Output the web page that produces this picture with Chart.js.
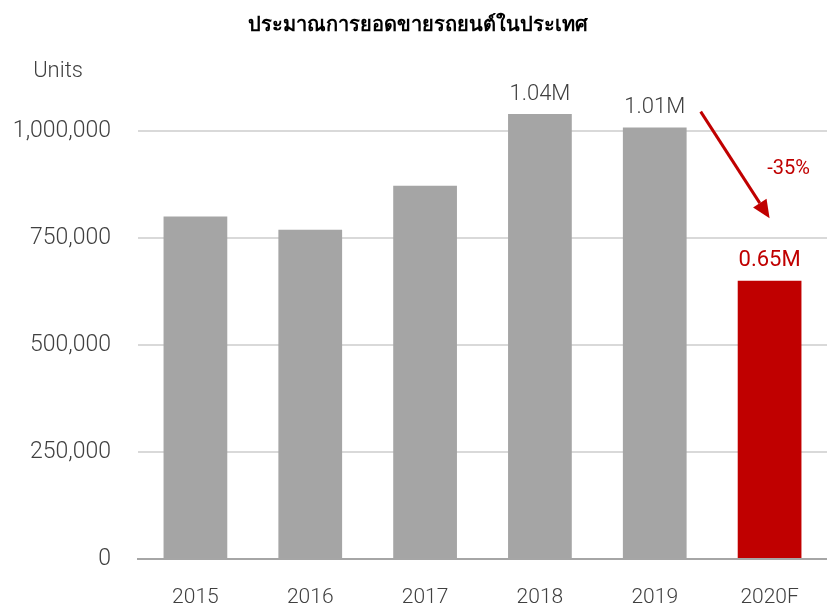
<!DOCTYPE html>
<html><head><meta charset="utf-8">
<script src="https://cdn.jsdelivr.net/npm/chart.js@4"></script>
<style>html,body{margin:0;padding:0;background:#fff}#wrap{width:827px;height:609px}</style>
</head><body><div id="wrap"><canvas id="c" width="827" height="609"></canvas></div>
<script>
const titleText = "ประมาณการยอดขายรถยนต์ในประเทศ";
const yAxisUnit = "Units";
const categories = ["2015","2016","2017","2018","2019","2020F"];
const salesUnits = [799632, 768788, 871650, 1039158, 1007552, 650000];
const valueLabels = ["", "", "", "1.04M", "1.01M", "0.65M"];
const changeLabel = "-35%";
const yTicks = [0, 250000, 500000, 750000, 1000000];

const GRAY = "#a5a5a5", RED = "#c00000", TXT = "#404040";
const FONT = "Roboto, 'Liberation Sans', sans-serif";

const overlay = {
  id: 'overlay',
  afterDraw(chart) {
    const ctx = chart.ctx, x = chart.scales.x, y = chart.scales.y;
    ctx.save();
    // title
    ctx.fillStyle = "#000";
    ctx.font = "bold 20px 'Noto Sans', sans-serif";
    ctx.textAlign = "center"; ctx.textBaseline = "middle";
    ctx.fillText(titleText, 418, 25);
    // units
    ctx.fillStyle = TXT;
    ctx.font = "300 22px " + FONT;
    ctx.fillText(yAxisUnit, 58, 71);
    // value labels
    salesUnits.forEach((v, i) => {
      if (!valueLabels[i]) return;
      const last = i === salesUnits.length - 1;
      ctx.fillStyle = last ? RED : TXT;
      ctx.font = (last ? "400" : "300") + " 22px " + FONT;
      ctx.textBaseline = "bottom";
      ctx.fillText(valueLabels[i], x.getPixelForValue(i), y.getPixelForValue(v) - 9);
    });
    // arrow from 2019 to 2020F
    const n = salesUnits.length;
    const x0 = x.getPixelForValue(n - 1.6), y0 = y.getPixelForValue(salesUnits[n - 2] * 1.037);
    const x1 = x.getPixelForValue(n - 1), y1 = y.getPixelForValue(salesUnits[n - 2] * 0.79);
    const ang = Math.atan2(y1 - y0, x1 - x0);
    const hl = 18, hw = 8;
    ctx.strokeStyle = RED; ctx.fillStyle = RED; ctx.lineWidth = 3;
    ctx.beginPath(); ctx.moveTo(x0, y0);
    ctx.lineTo(x1 - hl * Math.cos(ang), y1 - hl * Math.sin(ang)); ctx.stroke();
    ctx.beginPath(); ctx.moveTo(x1, y1);
    ctx.lineTo(x1 - hl * Math.cos(ang) + hw * Math.sin(ang), y1 - hl * Math.sin(ang) - hw * Math.cos(ang));
    ctx.lineTo(x1 - hl * Math.cos(ang) - hw * Math.sin(ang), y1 - hl * Math.sin(ang) + hw * Math.cos(ang));
    ctx.closePath(); ctx.fill();
    // change label
    ctx.font = "400 20px " + FONT; ctx.textAlign = "center"; ctx.textBaseline = "middle";
    ctx.fillText(changeLabel, x.getPixelForValue(n - 1) + 19, y.getPixelForValue(salesUnits[n - 2] * 0.905));
    ctx.restore();
  }
};

new Chart(document.getElementById('c'), {
  type: 'bar',
  data: {
    labels: categories,
    datasets: [{
      data: salesUnits,
      backgroundColor: salesUnits.map((v, i) => i === salesUnits.length - 1 ? RED : GRAY),
      barPercentage: 0.555, categoryPercentage: 1.0, borderWidth: 0
    }]
  },
  options: {
    responsive: false, animation: false,
    layout: { padding: { top: 88, left: 0, right: 0, bottom: 0 } },
    plugins: { legend: { display: false }, tooltip: { enabled: false }, title: { display: false } },
    scales: {
      x: {
        grid: { display: false, drawTicks: false },
        border: { display: true, color: "#a6a6a6", width: 2 },
        ticks: { color: TXT, font: { family: FONT, size: 21, weight: 300 }, padding: 26 },
        afterFit(s) { s.height = 50; }
      },
      y: {
        min: 0, max: 1100000,
        afterBuildTicks(s) { s.ticks = yTicks.map(v => ({ value: v })); },
        grid: { color: "#d9d9d9", lineWidth: 2, drawTicks: false },
        border: { display: false },
        ticks: { color: TXT, font: { family: FONT, size: 23, weight: 300 }, padding: 27,
          callback: v => v.toLocaleString('en-US') },
        afterFit(s) { s.width = 138; }
      }
    }
  },
  plugins: [overlay]
});
</script></body></html>
